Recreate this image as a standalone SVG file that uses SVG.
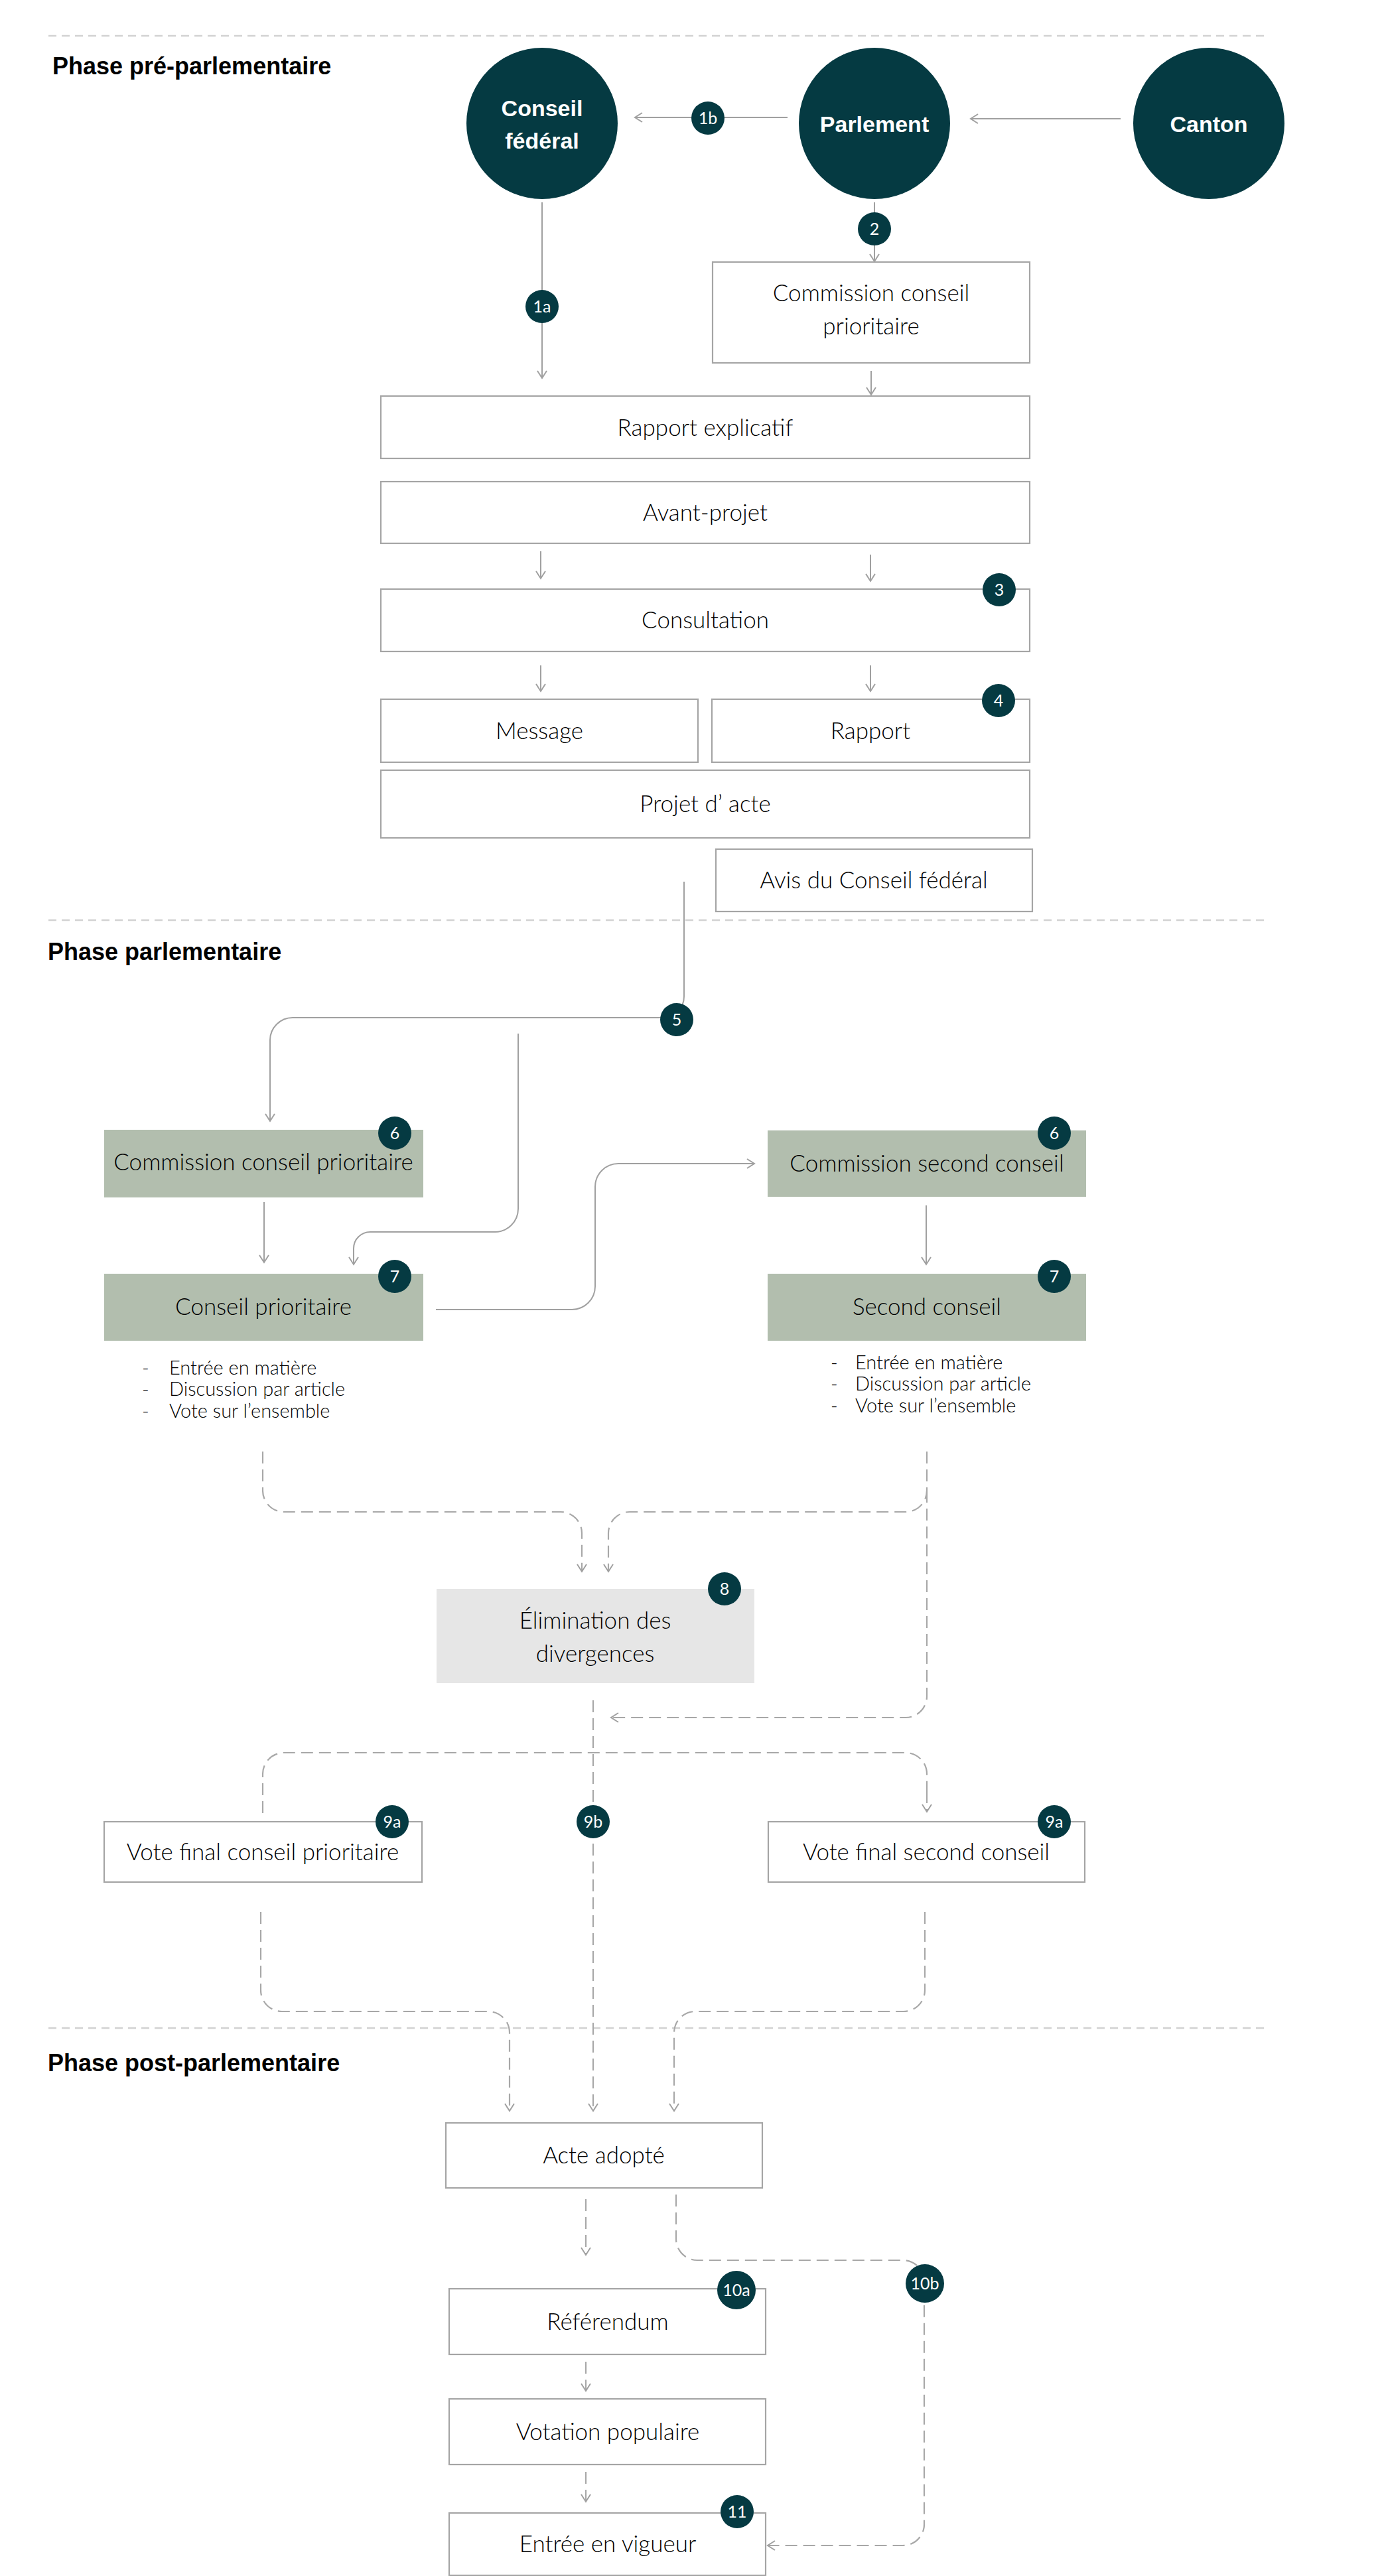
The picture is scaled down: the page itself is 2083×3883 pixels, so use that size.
<svg xmlns="http://www.w3.org/2000/svg" width="2083" height="3883" viewBox="0 0 2083 3883">
<defs>
<style>
.bg{fill:#ffffff}
.sep{stroke:#d2d2d2;stroke-width:2.5;stroke-dasharray:12 8;fill:none}
.phase{font-family:"Liberation Sans",Arial,sans-serif;font-weight:700;font-size:36px;fill:#000}
.circ{fill:#053a42}
.ctxt{font-family:"Liberation Sans",Arial,sans-serif;font-weight:700;font-size:34px;fill:#fff;text-anchor:middle}
.box{fill:#fff;stroke:#a5a5a5;stroke-width:2.2}
.green{fill:#b2beae}
.grey{fill:#e6e6e6}
.lbl{font-family:Lato,"Liberation Sans",sans-serif;font-weight:300;font-size:35px;fill:#000;text-anchor:middle}
.bul{font-family:Lato,"Liberation Sans",sans-serif;font-weight:300;font-size:29px;fill:#000}
.con{fill:none;stroke:#a0a0a0;stroke-width:2;marker-end:url(#arr)}
.dash{fill:none;stroke:#a8a8a8;stroke-width:2.2;stroke-dasharray:18 9}
.dasharr{fill:none;stroke:#a8a8a8;stroke-width:2.2;stroke-dasharray:18 9;marker-end:url(#arr)}
.bdg{fill:#053a42}
.btxt{font-family:Lato,"Liberation Sans",sans-serif;font-weight:400;font-size:25px;fill:#fff;text-anchor:middle}
</style>
<marker id="arr" markerUnits="userSpaceOnUse" markerWidth="30" markerHeight="30" viewBox="-15 -15 30 30" refX="0" refY="0" orient="auto">
<path d="M-11,-7 L0,0 L-11,7" fill="none" stroke="#a0a0a0" stroke-width="2"/>
</marker>
</defs>
<rect class="bg" x="0" y="0" width="2083" height="3883"/>

<g id="phases">
<line class="sep" x1="73" y1="54" x2="1913" y2="54"/>
<text class="phase" x="79" y="112">Phase pré-parlementaire</text>
<line class="sep" x1="73" y1="1387" x2="1913" y2="1387"/>
<text class="phase" x="72" y="1447">Phase parlementaire</text>
<line class="sep" x1="73" y1="3057" x2="1913" y2="3057"/>
<text class="phase" x="72" y="3122">Phase post-parlementaire</text>
</g>

<g id="connectors">
<path class="con" d="M1187,177 H957"/>
<path class="con" d="M1689,179 H1463"/>
<path class="con" d="M817,305 V570"/>
<path class="con" d="M1318,305 V394"/>
<path class="con" d="M1313,559 V595"/>
<path class="con" d="M815,831 V872"/>
<path class="con" d="M1312,836 V876"/>
<path class="con" d="M815,1003 V1042"/>
<path class="con" d="M1312,1003 V1042"/>
<path class="con" d="M1031,1329 V1502 A32,32 0 0 1 999,1534 H441 A34,34 0 0 0 407,1568 V1690"/>
<path class="con" d="M781,1558 V1822 A35,35 0 0 1 746,1857 H558 A25,25 0 0 0 533,1882 V1906"/>
<path class="con" d="M398,1812 V1903"/>
<path class="con" d="M657,1974 H862 A35,35 0 0 0 897,1939 V1789 A35,35 0 0 1 932,1754 H1137"/>
<path class="con" d="M1396,1817 V1906"/>
<path class="dasharr" d="M396,2188 V2247 A32,32 0 0 0 428,2279 H845 A32,32 0 0 1 877,2311 V2369"/>
<path class="dasharr" d="M1397,2188 V2247 A32,32 0 0 1 1365,2279 H949 A32,32 0 0 0 917,2311 V2369"/>
<path class="dasharr" d="M1397,2247 V2557 A32,32 0 0 1 1365,2589 H921"/>
<path class="dasharr" d="M894,2563 V3182"/>
<path class="dash" d="M396,2733 V2674 A32,32 0 0 1 428,2642 H1365 A32,32 0 0 1 1397,2674 V2700"/>
<path class="dasharr" d="M1397,2700 V2731"/>
<path class="dasharr" d="M393,2882 V3000 A32,32 0 0 0 425,3032 H736 A32,32 0 0 1 768,3064 V3182"/>
<path class="dasharr" d="M1394,2882 V3000 A32,32 0 0 1 1362,3032 H1048 A32,32 0 0 0 1016,3064 V3182"/>
<path class="dasharr" d="M883,3315 V3399"/>
<path class="dasharr" d="M1019,3308 V3375 A32,32 0 0 0 1051,3407 H1361 A32,32 0 0 1 1393,3439 V3805 A32,32 0 0 1 1361,3837 H1157"/>
<path class="dasharr" d="M883,3560 V3604"/>
<path class="dasharr" d="M883,3726 V3771"/>
</g>

<g id="connector-badges">
<circle class="bdg" cx="1067" cy="178" r="25"/><text class="btxt" x="1067" y="187">1b</text>
<circle class="bdg" cx="817" cy="462" r="25"/><text class="btxt" x="817" y="471">1a</text>
<circle class="bdg" cx="1318" cy="345" r="25"/><text class="btxt" x="1318" y="354">2</text>
<circle class="bdg" cx="1020" cy="1537" r="25"/><text class="btxt" x="1020" y="1546">5</text>
<circle class="bdg" cx="894" cy="2746" r="25"/><text class="btxt" x="894" y="2755">9b</text>
<circle class="bdg" cx="1394" cy="3442" r="29"/><text class="btxt" x="1394" y="3451">10b</text>
</g>

<g id="node-conseil-federal">
<circle class="circ" cx="817" cy="186" r="114"/>
<text class="ctxt" x="817" y="175">Conseil</text>
<text class="ctxt" x="817" y="224">fédéral</text>
</g>
<g id="node-parlement">
<circle class="circ" cx="1318" cy="186" r="114"/>
<text class="ctxt" x="1318" y="199">Parlement</text>
</g>
<g id="node-canton">
<circle class="circ" cx="1822" cy="186" r="114"/>
<text class="ctxt" x="1822" y="199">Canton</text>
</g>

<g id="node-commission-cp-pre">
<rect class="box" x="1074" y="395" width="478" height="152"/>
<text class="lbl" x="1313" y="454">Commission conseil</text>
<text class="lbl" x="1313" y="504">prioritaire</text>
</g>
<g id="node-rapport-explicatif">
<rect class="box" x="574" y="597" width="978" height="94"/>
<text class="lbl" x="1063" y="657">Rapport explicatif</text>
</g>
<g id="node-avant-projet">
<rect class="box" x="574" y="726" width="978" height="93"/>
<text class="lbl" x="1063" y="785">Avant-projet</text>
</g>
<g id="node-consultation">
<rect class="box" x="574" y="888" width="978" height="94"/>
<text class="lbl" x="1063" y="947">Consultation</text>
<circle class="bdg" cx="1506" cy="889" r="25"/><text class="btxt" x="1506" y="898">3</text>
</g>
<g id="node-message">
<rect class="box" x="574" y="1054" width="478" height="95"/>
<text class="lbl" x="813" y="1114">Message</text>
</g>
<g id="node-rapport">
<rect class="box" x="1073" y="1054" width="479" height="95"/>
<text class="lbl" x="1312" y="1114">Rapport</text>
<circle class="bdg" cx="1505" cy="1056" r="25"/><text class="btxt" x="1505" y="1065">4</text>
</g>
<g id="node-projet-acte">
<rect class="box" x="574" y="1161" width="978" height="102"/>
<text class="lbl" x="1063" y="1224">Projet d’ acte</text>
</g>
<g id="node-avis">
<rect class="box" x="1079" y="1280" width="477" height="94"/>
<text class="lbl" x="1317" y="1339">Avis du Conseil fédéral</text>
</g>

<g id="node-commission-cp">
<rect class="green" x="157" y="1703" width="481" height="102"/>
<text class="lbl" x="397" y="1764">Commission conseil prioritaire</text>
<circle class="bdg" cx="595" cy="1708" r="25"/><text class="btxt" x="595" y="1717">6</text>
</g>
<g id="node-conseil-prioritaire">
<rect class="green" x="157" y="1920" width="481" height="101"/>
<text class="lbl" x="397" y="1982">Conseil prioritaire</text>
<circle class="bdg" cx="595" cy="1924" r="25"/><text class="btxt" x="595" y="1933">7</text>
<text class="bul" x="214" y="2072">-</text><text class="bul" x="255" y="2072">Entrée en matière</text>
<text class="bul" x="214" y="2104">-</text><text class="bul" x="255" y="2104">Discussion par article</text>
<text class="bul" x="214" y="2137">-</text><text class="bul" x="255" y="2137">Vote sur l’ensemble</text>
</g>
<g id="node-commission-sc">
<rect class="green" x="1157" y="1704" width="480" height="100"/>
<text class="lbl" x="1397" y="1766">Commission second conseil</text>
<circle class="bdg" cx="1589" cy="1708" r="25"/><text class="btxt" x="1589" y="1717">6</text>
</g>
<g id="node-second-conseil">
<rect class="green" x="1157" y="1920" width="480" height="101"/>
<text class="lbl" x="1397" y="1982">Second conseil</text>
<circle class="bdg" cx="1589" cy="1924" r="25"/><text class="btxt" x="1589" y="1933">7</text>
<text class="bul" x="1252" y="2064">-</text><text class="bul" x="1289" y="2064">Entrée en matière</text>
<text class="bul" x="1252" y="2096">-</text><text class="bul" x="1289" y="2096">Discussion par article</text>
<text class="bul" x="1252" y="2129">-</text><text class="bul" x="1289" y="2129">Vote sur l’ensemble</text>
</g>
<g id="node-elimination">
<rect class="grey" x="658" y="2395" width="479" height="142"/>
<text class="lbl" x="897" y="2455">Élimination des</text>
<text class="lbl" x="897" y="2505">divergences</text>
<circle class="bdg" cx="1092" cy="2395" r="25"/><text class="btxt" x="1092" y="2404">8</text>
</g>
<g id="node-vote-final-cp">
<rect class="box" x="157" y="2746" width="479" height="91"/>
<text class="lbl" x="396" y="2804">Vote final conseil prioritaire</text>
<circle class="bdg" cx="591" cy="2746" r="25"/><text class="btxt" x="591" y="2755">9a</text>
</g>
<g id="node-vote-final-sc">
<rect class="box" x="1158" y="2746" width="477" height="91"/>
<text class="lbl" x="1396" y="2804">Vote final second conseil</text>
<circle class="bdg" cx="1589" cy="2746" r="25"/><text class="btxt" x="1589" y="2755">9a</text>
</g>
<g id="node-acte-adopte">
<rect class="box" x="672" y="3200" width="477" height="98"/>
<text class="lbl" x="910" y="3261">Acte adopté</text>
</g>
<g id="node-referendum">
<rect class="box" x="677" y="3450" width="477" height="99"/>
<text class="lbl" x="916" y="3512">Référendum</text>
<circle class="bdg" cx="1110" cy="3452" r="29"/><text class="btxt" x="1110" y="3461">10a</text>
</g>
<g id="node-votation">
<rect class="box" x="677" y="3616" width="477" height="99"/>
<text class="lbl" x="916" y="3678">Votation populaire</text>
</g>
<g id="node-entree">
<rect class="box" x="677" y="3788" width="477" height="94"/>
<text class="lbl" x="916" y="3847">Entrée en vigueur</text>
<circle class="bdg" cx="1111" cy="3786" r="25"/><text class="btxt" x="1111" y="3795">11</text>
</g>
</svg>
